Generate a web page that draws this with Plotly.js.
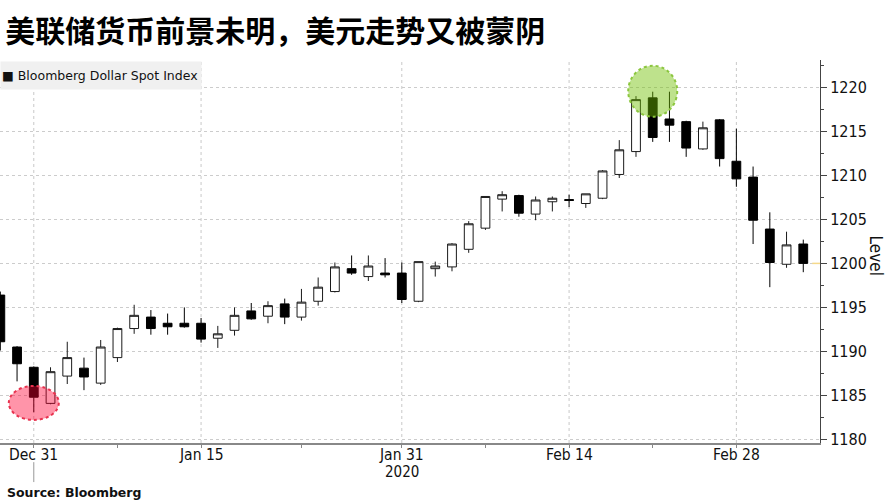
<!DOCTYPE html>
<html>
<head>
<meta charset="utf-8">
<script src="https://cdn.plot.ly/plotly-3.0.1.min.js"></script>
<style>html,body{margin:0;padding:0;background:#fff;}#chart{width:889px;height:500px;}</style>
</head>
<body>
<div id="chart"></div>
<script>
const dates = ["2019-12-27","2019-12-30","2019-12-31","2020-01-02","2020-01-03","2020-01-06","2020-01-07","2020-01-08","2020-01-09","2020-01-10",
"2020-01-13","2020-01-14","2020-01-15","2020-01-16","2020-01-17","2020-01-20","2020-01-21","2020-01-22","2020-01-23","2020-01-24",
"2020-01-27","2020-01-28","2020-01-29","2020-01-30","2020-01-31","2020-02-03","2020-02-04","2020-02-05","2020-02-06","2020-02-07",
"2020-02-10","2020-02-11","2020-02-12","2020-02-13","2020-02-14","2020-02-17","2020-02-18","2020-02-19","2020-02-20","2020-02-21",
"2020-02-24","2020-02-25","2020-02-26","2020-02-27","2020-02-28","2020-03-02","2020-03-03","2020-03-04","2020-03-05"];
const openV = [1196.4,1190.5,1188.2,1184.1,1187.2,1188.1,1186.4,1189.3,1192.6,1193.9,
1193.2,1193.2,1193.2,1191.5,1192.4,1194.6,1194.0,1195.4,1193.9,1195.7,
1196.8,1199.4,1198.5,1198.9,1198.9,1195.7,1199.4,1199.6,1201.6,1204.0,
1207.3,1207.7,1205.6,1207.0,1207.25,1206.8,1207.4,1210.1,1212.7,1218.8,
1216.4,1216.1,1213.0,1216.3,1211.6,1209.8,1203.9,1199.9,1202.2];
const highV = [1196.8,1190.6,1188.3,1188.2,1191.1,1189.3,1191.3,1192.7,1195.3,1194.7,
1194.3,1195.0,1193.8,1192.9,1195.0,1195.5,1195.7,1196.0,1197.1,1198.4,
1200.1,1200.9,1200.9,1200.6,1200.1,1200.2,1200.2,1202.3,1204.8,1207.6,
1208.2,1207.8,1207.6,1207.6,1207.8,1207.9,1210.6,1214.0,1219.0,1219.5,
1219.5,1216.2,1216.1,1216.4,1215.3,1211.0,1205.8,1203.6,1202.7];
const lowV = [1190.1,1186.6,1183.1,1184.0,1186.3,1185.6,1186.2,1188.8,1192.0,1191.9,
1191.9,1192.7,1191.0,1190.4,1191.8,1193.6,1193.2,1193.1,1193.5,1195.2,
1196.7,1198.7,1198.0,1198.4,1195.5,1195.6,1198.5,1199.1,1201.2,1203.8,
1205.9,1205.3,1204.9,1205.9,1206.4,1206.3,1207.3,1209.7,1212.1,1213.8,
1213.8,1212.1,1212.9,1211.0,1208.7,1202.2,1197.3,1199.5,1199.0];
const closeV = [1191.1,1188.6,1184.8,1187.7,1189.3,1187.1,1190.5,1192.6,1194.1,1192.6,
1192.8,1192.8,1191.4,1192.0,1194.1,1193.7,1195.2,1193.9,1195.6,1197.3,
1199.6,1198.9,1199.7,1198.7,1195.9,1200.2,1199.7,1202.2,1204.5,1207.6,
1207.8,1205.7,1207.2,1207.4,1207.15,1207.9,1210.5,1212.9,1218.6,1214.3,
1215.7,1213.1,1215.4,1211.9,1209.6,1204.9,1200.1,1202.1,1200.0];

const tickDates = ["2019-12-31","2020-01-08","2020-01-15","2020-01-23","2020-01-31","2020-02-07","2020-02-14","2020-02-21","2020-02-28"];
const labelDates = ["2019-12-31","2020-01-15","2020-01-31","2020-02-14","2020-02-28"];
const labelTexts = ["Dec 31","Jan 15","Jan 31","Feb 14","Feb 28"];
const yearLabel = "2020";
const yearLabelDate = "2020-01-31";
const yearStartDate = "2019-12-31";
const lowMarkDate = "2019-12-31", lowMarkValue = 1184.15;
const highMarkDate = "2020-02-21", highMarkValue = 1219.5;
const lastValue = 1200.0;

const axisFont = "DejaVu Sans Condensed, Liberation Sans Narrow, DejaVu Sans, sans-serif";

const trace = {
  type: "candlestick",
  x: dates, open: openV, high: highV, low: lowV, close: closeV,
  increasing: {line: {color: "#1a1a1a", width: 1}, fillcolor: "#ffffff"},
  decreasing: {line: {color: "#000000", width: 1}, fillcolor: "#000000"},
  whiskerwidth: 0,
  showlegend: false,
  hoverinfo: "skip"
};

const shapes = [];
labelDates.forEach(d => shapes.push({type:"line", xref:"x", yref:"paper", x0:d, x1:d, y0:0, y1:1,
  line:{color:"#c8c8c8", width:1, dash:"dot"}, layer:"below"}));
shapes.push({type:"line", xref:"x", yref:"paper", x0:yearStartDate, x1:yearStartDate, y0:-0.05, y1:-0.102,
  line:{color:"#999", width:1}});
shapes.push({type:"line", xref:"x", yref:"y", xsizemode:"pixel", xanchor:dates[dates.length-1], x0:9, x1:19,
  y0:lastValue, y1:lastValue, line:{color:"#f5d98a", width:1.5}});
shapes.push({type:"circle", xref:"x", yref:"y", xsizemode:"pixel", ysizemode:"pixel",
  xanchor:lowMarkDate, yanchor:lowMarkValue, x0:-25, x1:25, y0:-17, y1:17,
  fillcolor:"rgba(255,0,50,0.42)", line:{color:"#e8334f", width:2, dash:"dot"}, layer:"above"});
shapes.push({type:"circle", xref:"x", yref:"y", xsizemode:"pixel", ysizemode:"pixel",
  xanchor:highMarkDate, yanchor:highMarkValue, x0:-24.5, x1:24.5, y0:-25, y1:26,
  fillcolor:"rgba(110,190,0,0.45)", line:{color:"#8cc63f", width:2, dash:"dot"}, layer:"above"});

const annotations = [
  {text: "Level", xref: "paper", yref: "paper", x: 1.068, y: 0.49, textangle: 90, showarrow: false,
    xanchor: "center", yanchor: "middle", font: {family: axisFont, size: 17, color: "#111"}},
  {text: yearLabel, xref: "x", yref: "paper", x: yearLabelDate, y: -0.077, yanchor: "middle", showarrow: false,
    font: {family: axisFont, size: 15, color: "#111"}},
  {text: "■ Bloomberg Dollar Spot Index", xref: "paper", yref: "paper", x: 0, y: 0.9595, xanchor: "left", yanchor: "middle",
    showarrow: false, bgcolor: "#f0f0f0", width: 198, height: 25, align: "left", borderpad: 1,
    font: {family: "DejaVu Sans, sans-serif", size: 12.5, color: "#111"}},
  {text: "<b>Source: Bloomberg</b>", xref: "paper", yref: "paper", x: 0.006, y: -0.128, xanchor: "left", yanchor: "middle",
    showarrow: false, font: {family: "DejaVu Sans, sans-serif", size: 12.5, color: "#111"}}
];
labelDates.forEach((d, i) => annotations.push({text: labelTexts[i], xref: "x", yref: "paper", x: d, y: -0.031,
  xanchor: "center", yanchor: "middle", showarrow: false, font: {family: axisFont, size: 15.5, color: "#111"}}));

const layout = {
  width: 889, height: 500,
  margin: {l: 0, r: 69, t: 60, b: 57},
  paper_bgcolor: "#ffffff", plot_bgcolor: "#ffffff",
  boxgap: 0.25,
  title: {text: "美联储货币前景未明，美元走势又被蒙阴", x: 0.006, xref: "container", xanchor: "left",
    y: 0.938, yref: "container", yanchor: "middle",
    font: {family: "Noto Sans CJK SC, sans-serif", size: 30, color: "#000", weight: 700}},
  xaxis: {
    type: "category", range: [-0.02, 49.0], rangeslider: {visible: false},
    tickmode: "array", tickvals: tickDates, showticklabels: false,
    ticks: "outside", ticklen: 3, tickcolor: "#888", showgrid: false,
    showline: true, linecolor: "#888", linewidth: 1.5, fixedrange: true
  },
  yaxis: {
    side: "right", range: [1179.6, 1223.1], tick0: 1180, dtick: 5,
    ticks: "outside", ticklen: 6, tickcolor: "#444",
    minor: {dtick: 2.5, ticks: "outside", ticklen: 3, tickcolor: "#444", showgrid: false},
    showline: true, linecolor: "#444", linewidth: 1,
    showgrid: true, gridcolor: "#cccccc", griddash: "dot", gridwidth: 1,
    zeroline: false,
    tickfont: {family: axisFont, size: 16, color: "#111"}, fixedrange: true
  },
  shapes: shapes,
  annotations: annotations
};

Plotly.newPlot("chart", [trace], layout, {staticPlot: true});
</script>
</body>
</html>
